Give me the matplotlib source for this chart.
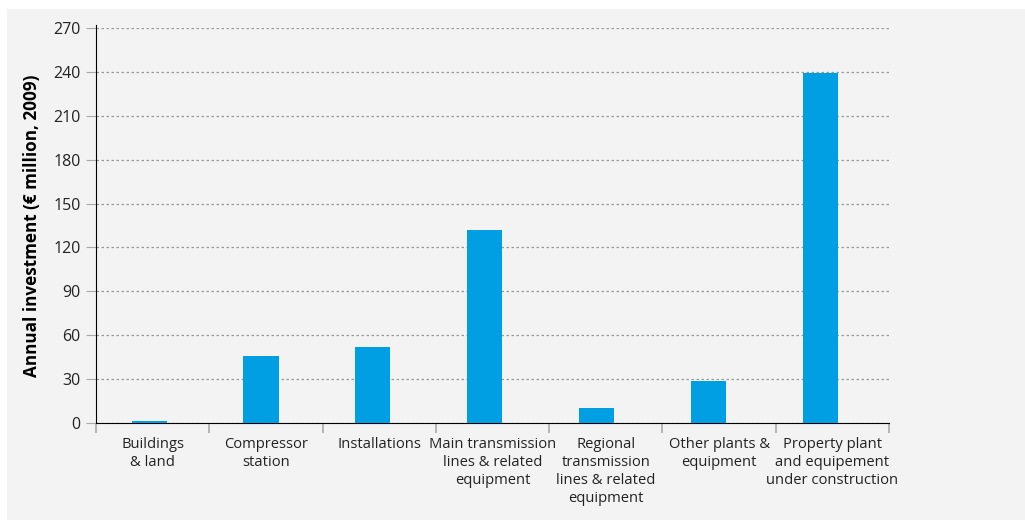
import matplotlib.pyplot as plt
import matplotlib.patches as mpatches
import numpy as np

plt.rcParams['font.family'] = ['Open Sans', 'DejaVu Sans']

categories = ['Buildings\n& land', 'Compressor\nstation', 'Installations',
              'Main transmission\nlines & related\nequipment',
              'Regional\ntransmission\nlines & related\nequipment',
              'Other plants &\nequipment',
              'Property plant\nand equipement\nunder construction']
values = [1.5, 46, 52, 132, 10, 29, 239]
yticks = [0, 30, 60, 90, 120, 150, 180, 210, 240, 270]

bg = '#f3f3f3'
fig = plt.figure(figsize=(10.25, 5.2), dpi=100, facecolor='white')
fig.patches.append(mpatches.Rectangle((7/1025, 0), 1, 1 - 9/520, transform=fig.transFigure,
                                      facecolor=bg, edgecolor='none', zorder=-10))
ax = fig.add_axes([96/1025, 1 - 423/520, (889-96)/1025, (423-28)/520])
ax.set_facecolor(bg)

x = np.arange(len(categories))
# bars sit slightly left of the category centres in the original
ax.bar(x * 0.987 - 0.03, values, width=0.31, color='#009fe3', zorder=3)

ax.set_xlim(-0.5, len(categories) - 0.5)
ax.set_ylim(0, 270)
ax.set_yticks(yticks)
ax.set_yticklabels([str(t) for t in yticks], fontsize=11.5, color='#222222')
ax.yaxis.grid(True, linestyle=(0, (2, 2)), color='#999999', linewidth=0.9)
ax.set_axisbelow(True)
ax.tick_params(axis='y', length=7, color='#aaaaaa', pad=4)

ax.set_xticks(x)
ax.set_xticklabels(categories, fontsize=10.6, linespacing=1.27, va='top', color='#222222')
ax.set_xticks(np.arange(-0.5, len(categories)), minor=True)
ax.tick_params(axis='x', which='major', length=0, pad=10)
ax.tick_params(axis='x', which='minor', length=7, color='#aaaaaa', width=1.2)

for s in ['top', 'right']:
    ax.spines[s].set_visible(False)
ax.spines['left'].set_color('black')
ax.spines['bottom'].set_color('black')
ax.spines['left'].set_bounds(0, 272)

ax.set_ylabel('Annual investment (€ million, 2009)', fontsize=12.3, fontweight='bold', labelpad=9)

fig.savefig('out.png', dpi=100, facecolor='white')
